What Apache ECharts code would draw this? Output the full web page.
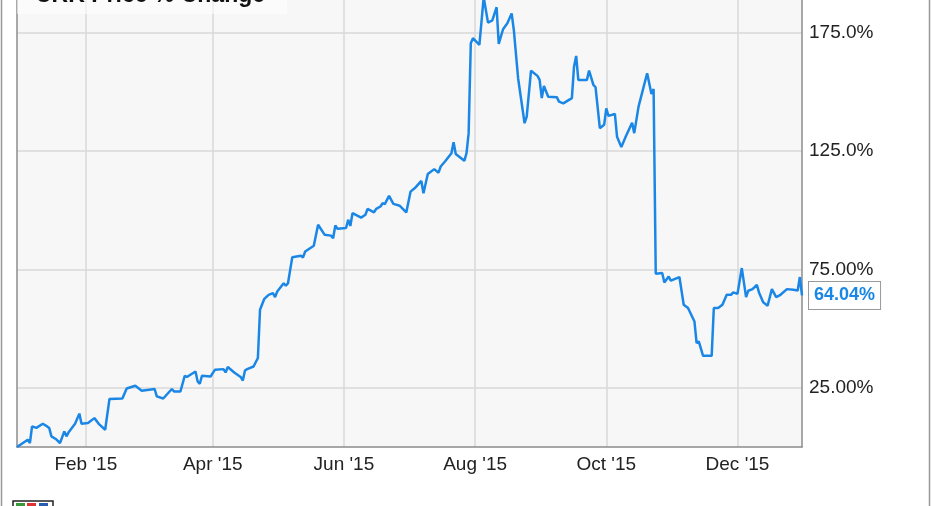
<!DOCTYPE html>
<html>
<head>
<meta charset="utf-8">
<script src="https://cdn.jsdelivr.net/npm/echarts@6/dist/echarts.min.js"></script>
<style>
  html, body { margin: 0; padding: 0; background: #fff; }
  #chart { width: 931px; height: 506px; }
</style>
</head>
<body>
<div id="chart"></div>
<script>
// dates of the plotted closes
const dates = [
  "2014-12-31", "2015-01-05", "2015-01-06", "2015-01-07", "2015-01-09", "2015-01-12", "2015-01-14", "2015-01-15",
  "2015-01-16", "2015-01-18", "2015-01-20", "2015-01-22", "2015-01-23", "2015-01-24", "2015-01-27", "2015-01-29",
  "2015-01-30", "2015-02-02", "2015-02-05", "2015-02-07", "2015-02-10", "2015-02-12", "2015-02-18", "2015-02-20",
  "2015-02-24", "2015-02-27", "2015-03-05", "2015-03-06", "2015-03-09", "2015-03-13", "2015-03-14", "2015-03-17",
  "2015-03-19", "2015-03-20", "2015-03-24", "2015-03-25", "2015-03-26", "2015-03-27", "2015-03-31", "2015-04-02",
  "2015-04-06", "2015-04-07", "2015-04-08", "2015-04-11", "2015-04-14", "2015-04-15", "2015-04-16", "2015-04-17",
  "2015-04-20", "2015-04-22", "2015-04-23", "2015-04-25", "2015-04-27", "2015-04-29", "2015-04-30", "2015-05-01",
  "2015-05-04", "2015-05-05", "2015-05-06", "2015-05-08", "2015-05-12", "2015-05-13", "2015-05-14", "2015-05-18",
  "2015-05-20", "2015-05-23", "2015-05-26", "2015-05-27", "2015-05-28", "2015-05-29", "2015-06-02", "2015-06-03",
  "2015-06-04", "2015-06-05", "2015-06-09", "2015-06-11", "2015-06-12", "2015-06-15", "2015-06-16", "2015-06-18",
  "2015-06-19", "2015-06-20", "2015-06-22", "2015-06-24", "2015-06-27", "2015-06-30", "2015-07-02", "2015-07-04",
  "2015-07-07", "2015-07-08", "2015-07-10", "2015-07-13", "2015-07-15", "2015-07-16", "2015-07-18", "2015-07-21",
  "2015-07-22", "2015-07-23", "2015-07-27", "2015-07-28", "2015-07-29", "2015-07-30", "2015-07-31", "2015-08-03",
  "2015-08-05", "2015-08-07", "2015-08-09", "2015-08-11", "2015-08-12", "2015-08-14", "2015-08-16", "2015-08-18",
  "2015-08-19", "2015-08-21", "2015-08-24", "2015-08-25", "2015-08-27", "2015-08-30", "2015-08-31", "2015-09-01",
  "2015-09-02", "2015-09-04", "2015-09-08", "2015-09-09", "2015-09-11", "2015-09-15", "2015-09-16", "2015-09-17",
  "2015-09-18", "2015-09-22", "2015-09-23", "2015-09-25", "2015-09-26", "2015-09-28", "2015-09-30", "2015-10-01",
  "2015-10-02", "2015-10-05", "2015-10-06", "2015-10-08", "2015-10-10", "2015-10-13", "2015-10-14", "2015-10-16",
  "2015-10-20", "2015-10-22", "2015-10-23", "2015-10-24", "2015-10-27", "2015-10-28", "2015-10-30", "2015-10-31",
  "2015-11-04", "2015-11-06", "2015-11-08", "2015-11-11", "2015-11-12", "2015-11-13", "2015-11-15", "2015-11-19",
  "2015-11-20", "2015-11-22", "2015-11-24", "2015-11-26", "2015-11-28", "2015-11-29", "2015-12-01", "2015-12-03",
  "2015-12-05", "2015-12-06", "2015-12-08", "2015-12-10", "2015-12-11", "2015-12-13", "2015-12-15", "2015-12-17",
  "2015-12-19", "2015-12-21", "2015-12-24", "2015-12-27", "2015-12-29", "2015-12-30", "2015-12-31"
];
// price % change
const changes = [
  0, 3.1, 1.7, 8.7, 8.1, 9.8, 8.7, 8.0,
  4.5, 3.4, 1.7, 6.6, 4.5, 6.2, 9.8, 14.1,
  9.8, 10.1, 12.2, 9.8, 7.3, 20.3, 20.5, 24.7,
  25.9, 23.8, 24.5, 21.4, 20.5, 24.5, 23.5, 23.5,
  30.1, 29.6, 31.9, 27.7, 26.7, 30.1, 29.8, 32.6,
  32.9, 31.5, 33.8, 31.5, 29.6, 28.1, 32.3, 32.9,
  34.0, 37.6, 58.0, 62.6, 64.3, 65.0, 63.3, 65.7,
  69.2, 68.1, 69.2, 80.2, 80.8, 80.1, 82.6, 85.0,
  93.9, 89.7, 89.3, 88.2, 93.6, 92.2, 92.5, 96.0,
  93.4, 98.8, 96.9, 98.1, 100.6, 99.1, 100.6, 101.6,
  103.0, 102.6, 106.1, 102.7, 101.9, 99.1, 107.9, 109.4,
  112.4, 107.2, 115.3, 117.4, 115.9, 118.5, 120.6, 124.1,
  128.8, 123.8, 120.9, 124.1, 132.6, 170.6, 172.7, 169.9,
  190.0, 179.3, 180.2, 185.8, 170.3, 176.5, 179.0, 183.2,
  176.2, 155.8, 136.8, 139.6, 159.0, 156.8, 155.1, 147.4,
  152.5, 148.0, 147.8, 145.9, 145.2, 147.4, 160.7, 165.2,
  155.1, 155.1, 159.0, 153.0, 152.0, 134.7, 136.1, 143.1,
  139.9, 140.7, 131.1, 126.7, 131.1, 137.0, 132.6, 143.8,
  157.9, 149.1, 151.2, 73.2, 73.5, 69.5, 72.0, 70.3,
  71.8, 60.1, 58.7, 53.0, 43.9, 44.6, 38.5, 38.5,
  58.7, 58.7, 60.1, 64.3, 64.3, 65.3, 64.7, 75.6,
  63.3, 66.0, 66.7, 68.5, 65.3, 61.1, 59.7, 66.7,
  63.3, 64.3, 66.7, 66.4, 66.1, 71.8, 64.04
];
// x axis ticks
const tickDates = ["2015-02-01", "2015-04-01", "2015-06-01", "2015-08-01", "2015-10-01", "2015-12-01"];
const tickLabels = ["Feb '15", "Apr '15", "Jun '15", "Aug '15", "Oct '15", "Dec '15"];
// y axis ticks
const yTicks = [25, 75, 125, 175];
const yTickLabels = ["25.00%", "75.00%", "125.0%", "175.0%"];

// every calendar day of the range, one category each
const days = [];
for (let t = Date.UTC(2014, 11, 31); t <= Date.UTC(2015, 11, 31); t += 86400000) {
  days.push(new Date(t).toISOString().slice(0, 10));
}
const isTick = (i, v) => tickDates.indexOf(v) >= 0;

const chart = echarts.init(document.getElementById("chart"));
const font = "Liberation Sans, Arial, sans-serif";
const frame = { show: true, lineStyle: { color: "#8c8c8c", width: 1.5 } };
chart.setOption({
  animation: false,
  textStyle: { fontFamily: font },
  grid: {
    left: 17,
    right: 129,
    top: 0,
    bottom: 59,
    show: true,
    backgroundColor: "#f7f7f7",
    borderWidth: 0,
  },
  xAxis: {
    type: "category",
    data: days,
    boundaryGap: false,
    axisLine: frame,
    axisTick: { show: false },
    axisLabel: {
      interval: isTick,
      formatter: (v) => tickLabels[tickDates.indexOf(v)],
      color: "#222",
      fontSize: 19,
      fontFamily: font,
      margin: 8,
    },
    splitLine: {
      show: true,
      interval: isTick,
      lineStyle: { color: "#d9d9d9", width: 1.5 },
    },
  },
  yAxis: [
    {
      type: "value",
      position: "right",
      min: 0,
      max: 188.85,
      interval: 25,
      axisLine: frame,
      axisTick: { show: false },
      axisLabel: {
        formatter: (v) => (yTicks.indexOf(v) >= 0 ? yTickLabels[yTicks.indexOf(v)] : ""),
        color: "#222",
        fontSize: 19,
        fontFamily: font,
        margin: 7,
      },
      splitLine: {
        show: true,
        lineStyle: { color: ["rgba(0,0,0,0)", "#d9d9d9"], width: 1.5 },
      },
    },
    {
      type: "value",
      position: "left",
      min: 0,
      max: 188.85,
      interval: 25,
      axisLine: frame,
      axisTick: { show: false },
      axisLabel: { show: false },
      splitLine: { show: false },
    },
  ],
  series: [
    {
      name: "CRK Price % Change",
      type: "line",
      data: dates.map((d, i) => [d, changes[i]]),
      showSymbol: false,
      lineStyle: { color: "#1a87e6", width: 2.5 },
      itemStyle: { color: "#1a87e6" },
      endLabel: {
        show: true,
        formatter: (p) => p.value[1].toFixed(2) + "%",
        color: "#1a87e6",
        fontWeight: "bold",
        fontSize: 18,
        fontFamily: font,
        backgroundColor: "#fff",
        borderColor: "#999",
        borderWidth: 1,
        padding: [5, 5, 4, 5],
        distance: 7,
      },
    },
  ],
  graphic: [
    // title box, cut off at the top
    {
      type: "rect",
      shape: { x: 17, y: -20, width: 270, height: 34 },
      style: { fill: "rgba(255,255,255,0.55)" },
      z: 10,
    },
    {
      type: "text",
      x: 35,
      y: 7.5,
      style: {
        text: "CRK Price % Change",
        font: "bold 23px Liberation Sans, Arial, sans-serif",
        fill: "#111",
        verticalAlign: "bottom",
      },
      z: 11,
    },
    // outer frame
    { type: "line", shape: { x1: 1.5, y1: 0, x2: 1.5, y2: 506 }, style: { stroke: "#999", lineWidth: 1.5 } },
    { type: "line", shape: { x1: 929.5, y1: 0, x2: 929.5, y2: 506 }, style: { stroke: "#999", lineWidth: 1.5 } },
    // logo peeking in at the bottom
    { type: "rect", shape: { x: 13, y: 501, width: 40, height: 8 }, style: { fill: "#fff", stroke: "#222", lineWidth: 1.5 } },
    { type: "rect", shape: { x: 16, y: 503, width: 9, height: 6 }, style: { fill: "#3a9a3a" } },
    { type: "rect", shape: { x: 27, y: 503, width: 9, height: 6 }, style: { fill: "#d33" } },
    { type: "rect", shape: { x: 39, y: 503, width: 9, height: 6 }, style: { fill: "#2a5db0" } },
  ],
});
</script>
</body>
</html>
